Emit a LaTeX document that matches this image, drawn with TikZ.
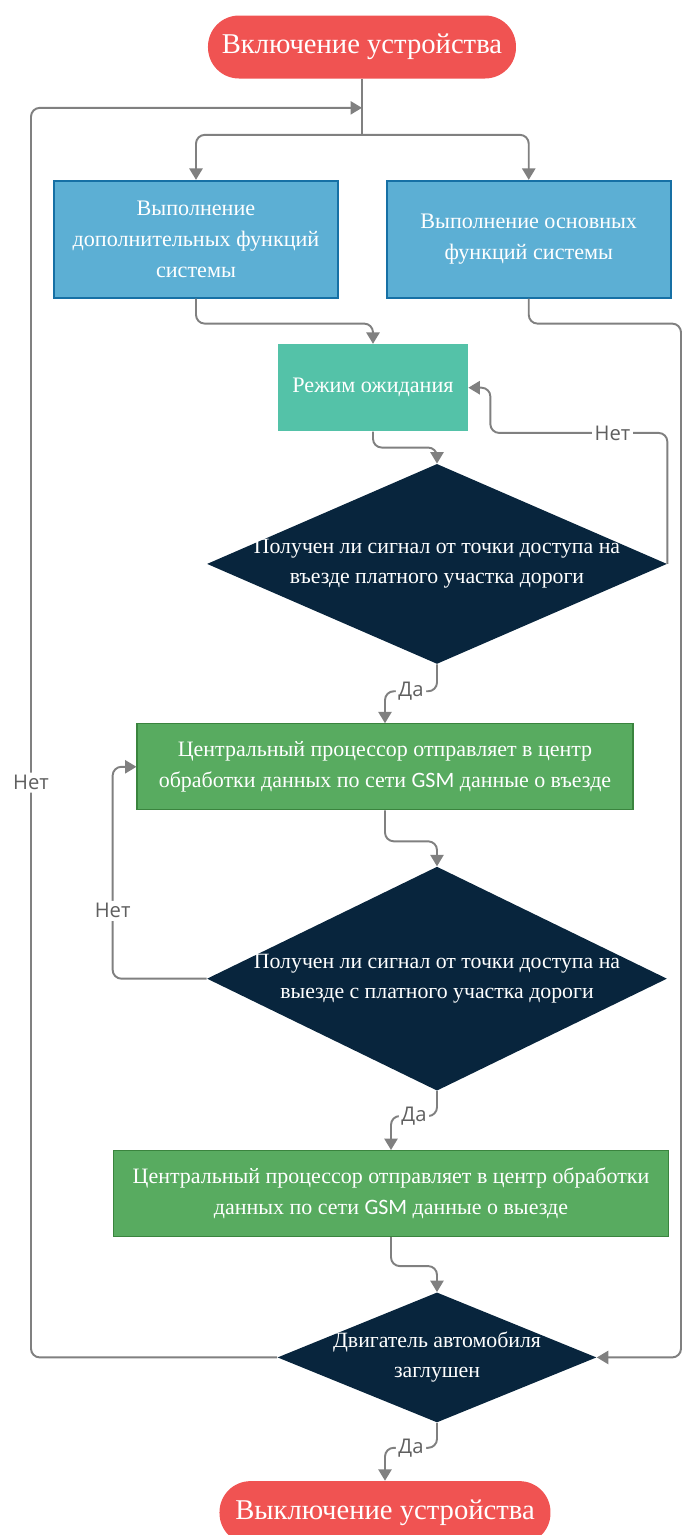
\documentclass[tikz,border=0pt]{standalone}
\usepackage{fontspec}
\setmainfont{Liberation Serif}
\newfontfamily\gsmfont{Carlito}
\newfontfamily\lblfont{Open Sans}
\usetikzlibrary{shapes.geometric, arrows.meta, positioning, calc}
\definecolor{coralred}{RGB}{240,83,82}
\definecolor{skyblue}{RGB}{92,175,212}
\definecolor{skyedge}{RGB}{22,112,165}
\definecolor{mint}{RGB}{84,194,168}
\definecolor{leaf}{RGB}{88,171,96}
\definecolor{leafedge}{RGB}{58,132,62}
\definecolor{navydark}{RGB}{8,37,61}
\definecolor{linegray}{RGB}{128,128,128}
\definecolor{lbltext}{RGB}{95,95,95}
\newcommand{\gsm}{{\gsmfont GSM}}

\begin{document}
\begin{tikzpicture}[
        node distance=1cm,
        terminal/.style={rectangle, fill=coralred, rounded corners=0.62cm, minimum width=6.16cm, minimum height=1.26cm, text=white, font=\fontsize{16.3}{20}\selectfont},
        process/.style={rectangle, draw=skyedge, fill=skyblue, line width=1pt, minimum width=5.68cm, minimum height=2.34cm, text=white, align=center, font=\fontsize{12.6}{17.6}\selectfont},
        waitbox/.style={rectangle, fill=mint, minimum width=3.8cm, minimum height=1.74cm, text=white, font=\fontsize{12.6}{17.6}\selectfont},
        action/.style={rectangle, draw=leafedge, fill=leaf, line width=0.6pt, minimum height=1.72cm, text=white, align=center, font=\fontsize{12.5}{17.6}\selectfont},
        decision/.style={diamond, fill=navydark, inner sep=0pt},
        dectext/.style={text=white, align=center, font=\fontsize{12.4}{17}\selectfont},
        arrow/.style={-{Triangle[length=6.5pt, width=7.5pt]}, draw=linegray, line width=1.1pt, rounded corners=5pt},
        lbl/.style={fill=white, inner sep=1.5pt, text=lbltext, font=\lblfont\fontsize{11.5}{13}\selectfont}
    ]
        \useasboundingbox (-7.24,0.94) rectangle (6.42,-29.76);

        \node[terminal] (start) {Включение устройства};
        \node[process, below=2.02cm of start, xshift=-3.32cm] (extra) {Выполнение\\дополнительных функций\\системы};
        \node[process, right=0.94cm of extra] (main) {Выполнение основных\\функций системы};
        \node[waitbox, below=5.3cm of start, xshift=0.22cm] (wait) {Режим ожидания};
        \node[decision, minimum width=9.2cm, minimum height=4cm, below=0.64cm of wait, xshift=1.28cm,
              label={[dectext]center:{Получен ли сигнал от точки доступа на\\въезде платного участка дороги}}] (entry) {};
        \node[action, minimum width=9.92cm, below=1.18cm of entry, xshift=-1.04cm] (sendin) {Центральный процессор отправляет в центр\\обработки данных по сети \gsm{} данные о въезде};
        \node[decision, minimum width=9.2cm, minimum height=4.48cm, below=1.12cm of sendin, xshift=1.04cm,
              label={[dectext]center:{Получен ли сигнал от точки доступа на\\выезде с платного участка дороги}}] (exit) {};
        \node[action, minimum width=11.1cm, below=1.18cm of exit, xshift=-0.92cm] (sendout) {Центральный процессор отправляет в центр обработки\\данных по сети \gsm{} данные о выезде};
        \node[decision, minimum width=6.38cm, minimum height=2.6cm, below=1.1cm of sendout, xshift=0.92cm,
              label={[dectext]center:{Двигатель автомобиля\\заглушен}}] (engine) {};
        \node[terminal, minimum width=6.62cm, below=1.16cm of engine, xshift=-1.04cm] (finish) {Выключение устройства};

        \coordinate (loopin) at ($(start.south)+(0,-0.58)$);
        \coordinate (split) at ($(start.south)+(0,-1.12)$);
        \coordinate (railL) at (-6.62,0);
        \coordinate (railR) at (6.38,0);

        % start and the two branches
        \draw[arrow, -] (start.south) -- (split);
        \draw[arrow] (split) -| (extra.north);
        \draw[arrow] (split) -| (main.north);
        \draw[arrow] (extra.south) -- ++(0,-0.5) -| (wait.north);
        \draw[arrow] (main.south) -- ++(0,-0.5) -| (railR |- engine.east) -- (engine.east);

        % waiting for the entry signal
        \draw[arrow] (wait.south) -- ++(0,-0.32) -| (entry.north);
        \draw[arrow] (entry.east) -- ++(0,2.62) -- node[lbl, pos=0.31]{Нет} ++(-3.54,0) |- (wait.east);
        \draw[arrow] (entry.south) -- ++(0,-0.54) -| node[lbl, pos=0.25]{Да} (sendin.north);

        % waiting for the exit signal
        \draw[arrow] (sendin.south) -- ++(0,-0.62) -| (exit.north);
        \draw[arrow] (exit.west) -- ++(-1.88,0) |- node[lbl, pos=0.16]{Нет} (sendin.west);
        \draw[arrow] (exit.south) -- ++(0,-0.5) -| node[lbl, pos=0.25]{Да} (sendout.north);

        % engine check
        \draw[arrow] (sendout.south) -- ++(0,-0.58) -| (engine.north);
        \draw[arrow] (engine.west) -- (engine.west -| railL) -- node[lbl, pos=0.46]{Нет} (railL |- loopin) -- (loopin);
        \draw[arrow] (engine.south) -- ++(0,-0.5) -| node[lbl, pos=0.25]{Да} (finish.north);
    \end{tikzpicture}
\end{document}
